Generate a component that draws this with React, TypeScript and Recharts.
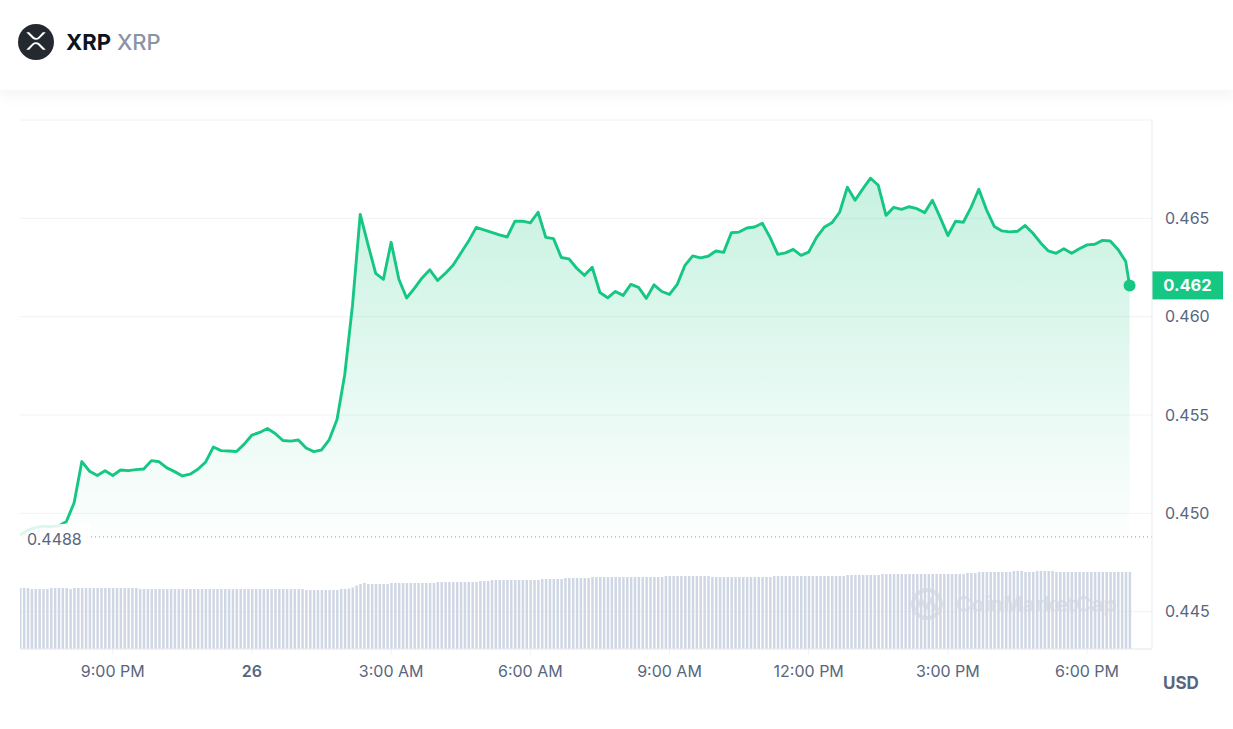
import React from 'react';
import {
  ComposedChart,
  Area,
  Bar,
  XAxis,
  YAxis,
  CartesianGrid,
  ReferenceLine,
  ReferenceDot,
} from 'recharts';

// 24h of 5-minute slots, starting 7:00 PM
const TICK_SLOTS = [24, 60, 96, 132, 168, 204, 240, 276];
const TICK_LABELS = ['9:00 PM', '26', '3:00 AM', '6:00 AM', '9:00 AM', '12:00 PM', '3:00 PM', '6:00 PM'];
const PRICE_TICKS = [0.445, 0.45, 0.455, 0.46, 0.465];
const OPEN_PRICE = 0.4488;

// price, one reading every 10 minutes (last one is the live price)
const PRICE = [
  0.4489, 0.44914, 0.44927, 0.44935, 0.44932, 0.44936, 0.44958, 0.45054, 0.45263, 0.45214,
  0.45192, 0.45216, 0.45192, 0.4522, 0.45217, 0.45222, 0.45225, 0.45268, 0.45262, 0.45231,
  0.45212, 0.4519, 0.45199, 0.45224, 0.4526, 0.45337, 0.45319, 0.45317, 0.45314, 0.45352,
  0.45398, 0.45411, 0.45431, 0.45406, 0.4537, 0.45367, 0.45373, 0.45332, 0.45314, 0.45322,
  0.45375, 0.45477, 0.45706, 0.46057, 0.4652, 0.46368, 0.4622, 0.4619, 0.46378, 0.4619,
  0.46095, 0.46144, 0.46197, 0.46238, 0.46184, 0.4622, 0.46261, 0.46322, 0.46383, 0.46454,
  0.46441, 0.46429, 0.46416, 0.46405, 0.46485, 0.46486, 0.46477, 0.46531, 0.46403, 0.46397,
  0.46301, 0.46294, 0.46246, 0.4621, 0.46251, 0.46123, 0.46096, 0.46128, 0.46108, 0.46164,
  0.46149, 0.46093, 0.46162, 0.46128, 0.46113, 0.46164, 0.46261, 0.46309, 0.46299, 0.46307,
  0.46334, 0.46327, 0.46427, 0.4643, 0.46451, 0.46456, 0.46475, 0.46403, 0.46317, 0.46324,
  0.46342, 0.46312, 0.46328, 0.46402, 0.46454, 0.46477, 0.46531, 0.46658, 0.46592, 0.4665,
  0.46704, 0.46668, 0.46515, 0.46556, 0.46546, 0.46559, 0.46549, 0.46529, 0.46592, 0.46505,
  0.46413, 0.46485, 0.4648, 0.46556, 0.46648, 0.46543, 0.46459, 0.46436, 0.46431, 0.46434,
  0.46464, 0.46424, 0.46375, 0.46334, 0.46322, 0.46345, 0.46322, 0.46345, 0.46365, 0.46368,
  0.46388, 0.46385, 0.46342, 0.46281, 0.46159,
];

// 24h volume (million USD), one bar per 5-minute slot
const VOLUME = [
  976, 976, 976, 960, 960, 960, 960, 960, 976, 976, 976, 976, 976, 960, 976, 976,
  976, 976, 976, 976, 976, 976, 976, 976, 976, 976, 976, 976, 976, 976, 976, 960,
  960, 960, 960, 960, 960, 960, 960, 960, 960, 960, 960, 960, 960, 960, 960, 960,
  960, 960, 960, 960, 960, 960, 960, 960, 960, 960, 960, 960, 960, 960, 960, 960,
  960, 960, 960, 960, 960, 960, 960, 960, 960, 960, 944, 944, 944, 944, 944, 944,
  944, 944, 944, 960, 960, 968, 984, 1016, 1040, 1056, 1040, 1040, 1040, 1040, 1040, 1040,
  1056, 1056, 1056, 1056, 1056, 1056, 1056, 1056, 1056, 1056, 1056, 1056, 1072, 1072, 1072, 1072,
  1072, 1072, 1072, 1072, 1072, 1072, 1072, 1088, 1088, 1088, 1104, 1104, 1104, 1104, 1104, 1104,
  1104, 1104, 1104, 1104, 1104, 1104, 1104, 1120, 1120, 1120, 1120, 1120, 1120, 1136, 1136, 1136,
  1136, 1136, 1136, 1136, 1152, 1152, 1152, 1152, 1152, 1152, 1152, 1152, 1152, 1152, 1152, 1152,
  1152, 1152, 1152, 1152, 1152, 1152, 1152, 1168, 1168, 1168, 1168, 1168, 1168, 1168, 1168, 1168,
  1168, 1168, 1168, 1152, 1152, 1152, 1152, 1152, 1152, 1152, 1152, 1152, 1152, 1152, 1152, 1152,
  1152, 1152, 1152, 1168, 1168, 1168, 1168, 1168, 1168, 1168, 1168, 1168, 1168, 1168, 1168, 1168,
  1168, 1168, 1168, 1168, 1168, 1168, 1184, 1184, 1184, 1184, 1184, 1184, 1184, 1184, 1184, 1200,
  1200, 1200, 1200, 1200, 1200, 1200, 1200, 1200, 1200, 1200, 1200, 1200, 1200, 1200, 1200, 1200,
  1200, 1200, 1200, 1200, 1200, 1216, 1216, 1216, 1232, 1232, 1232, 1232, 1232, 1232, 1232, 1232,
  1232, 1248, 1248, 1248, 1232, 1232, 1232, 1248, 1248, 1248, 1248, 1248, 1232, 1232, 1232, 1232,
  1232, 1232, 1232, 1232, 1232, 1232, 1232, 1232, 1232, 1232, 1232, 1232, 1232, 1232, 1232, 1232,
];

const GREEN = '#16c784';
const TEXT = '#58667e';
const BORDER = '#e9ebef';
const FONT = 'Inter, "Noto Sans", sans-serif';

type Row = { t: number; volume: number; price?: number };

const rows: Row[] = VOLUME.map((v, i) => ({ t: i, volume: v }));
PRICE.forEach((p, j) => {
  rows[Math.min(j * 2, rows.length - 1)].price = p;
});
const lastPrice = PRICE[PRICE.length - 1];

function TimeTick(props: any) {
  const { x, y, payload } = props;
  const label = TICK_LABELS[TICK_SLOTS.indexOf(payload.value)];
  const isDay = label === '26';
  return (
    <text
      x={x}
      y={y}
      dy={21.5}
      textAnchor="middle"
      fontSize={16}
      fontFamily={FONT}
      fontWeight={isDay ? 600 : 400}
      fill={TEXT}
    >
      {label}
    </text>
  );
}

function OpenLabel(props: any) {
  const { viewBox } = props;
  if (!viewBox) return null;
  const { x, y } = viewBox;
  return (
    <g>
      <rect x={x} y={y - 13} width={70} height={29} fill="#fff" fillOpacity={0.85} />
      <text x={x + 7} y={y + 8} fontSize={16} fontFamily={FONT} fill={TEXT}>
        {OPEN_PRICE.toFixed(4)}
      </text>
    </g>
  );
}

function PriceBadge(props: any) {
  const { viewBox } = props;
  if (!viewBox) return null;
  const { x, y, width } = viewBox;
  const left = x + width;
  return (
    <g>
      <rect x={left} y={y - 14} width={71} height={28} fill={GREEN} />
      <text
        x={left + 35.5}
        y={y + 6}
        textAnchor="middle"
        fontSize={16.5}
        fontWeight={700}
        fontFamily={FONT}
        fill="#fff"
      >
        {lastPrice.toFixed(3)}
      </text>
    </g>
  );
}

export default function App() {
  return (
    <div
      style={{
        position: 'absolute',
        left: 0,
        top: 0,
        width: 1233,
        height: 729,
        background: '#fff',
        fontFamily: FONT,
        overflow: 'hidden',
      }}
    >
      <div
        style={{
          position: 'absolute',
          left: 0,
          top: 0,
          width: 1233,
          height: 90,
          background: '#fff',
          boxShadow: '0 4px 14px rgba(88,102,126,0.09)',
          zIndex: 3,
          display: 'flex',
          alignItems: 'center',
        }}
      >
        <svg width={60} height={90} style={{ flex: 'none' }}>
          <circle cx={36} cy={42} r={18} fill="#23292f" />
          <g transform="translate(21,26) scale(1.25)" fill="#fff">
            <path d="M17.4 5h2.4l-5 4.95a4.05 4.05 0 0 1-5.65 0L4.2 5h2.4l3.78 3.74a2.56 2.56 0 0 0 3.6 0L17.4 5z" />
            <path d="M6.57 19H4.18l5-4.95a4.05 4.05 0 0 1 5.65 0L19.83 19h-2.4l-3.8-3.77a2.56 2.56 0 0 0-3.6 0L6.57 19z" />
          </g>
        </svg>
        <span style={{ marginLeft: 6, marginTop: -6, fontSize: 22, fontWeight: 700, color: '#0d1421' }}>XRP</span>
        <span style={{ marginLeft: 6, marginTop: -6, fontSize: 22, fontWeight: 500, color: '#8a94a6' }}>XRP</span>
      </div>

      {/* watermark sits behind the volume bars */}
      <svg
        width={1233}
        height={729}
        style={{ position: 'absolute', left: 0, top: 0, zIndex: 0 }}
      >
        <circle cx={927} cy={604} r={14} fill="none" stroke="#dfe3ea" strokeWidth={4} />
        <path
          d="M916 610 l5 -10 l5 8 l5 -8 l5 10"
          fill="none"
          stroke="#dfe3ea"
          strokeWidth={3.5}
        />
        <text x={956} y={612} fontSize={21} fontWeight={700} fontFamily={FONT} fill="#dfe3ea">
          CoinMarketCap
        </text>
      </svg>

      <div style={{ position: 'absolute', left: 0, top: 0, zIndex: 1 }}>
        <ComposedChart
          width={1233}
          height={729}
          data={rows}
          margin={{ top: 120, right: 0, bottom: 50, left: 20 }}
        >
          <defs>
            <linearGradient id="priceFill" x1="0" y1="0" x2="0" y2="1">
              <stop offset="0%" stopColor={GREEN} stopOpacity={0.4} />
              <stop offset="100%" stopColor={GREEN} stopOpacity={0.02} />
            </linearGradient>
          </defs>
          <CartesianGrid vertical={false} stroke="#f1f2f4" yAxisId="price" />
          <XAxis
            dataKey="t"
            type="number"
            domain={[0, 292.8]}
            ticks={TICK_SLOTS}
            tick={<TimeTick />}
            tickSize={6}
            tickMargin={0}
            tickLine={{ stroke: '#eff2f5' }}
            axisLine={{ stroke: BORDER }}
            height={30}
            allowDataOverflow
          />
          <XAxis
            xAxisId="top"
            dataKey="t"
            type="number"
            domain={[0, 292.8]}
            orientation="top"
            height={0}
            tick={false}
            tickLine={false}
            axisLine={{ stroke: BORDER }}
          />
          <YAxis
            yAxisId="border"
            orientation="left"
            width={0}
            domain={[0, 1]}
            tick={false}
            tickLine={false}
            axisLine={{ stroke: BORDER }}
          />
          <YAxis
            yAxisId="price"
            orientation="right"
            width={81}
            domain={[0.4431, 0.47]}
            ticks={PRICE_TICKS}
            tickFormatter={(v: number) => v.toFixed(3)}
            tick={{ fontSize: 16, fill: TEXT, fontFamily: FONT }}
            tickLine={false}
            tickSize={6}
            tickMargin={7}
            axisLine={{ stroke: BORDER }}
            allowDataOverflow
          />
          <YAxis yAxisId="vol" hide domain={[0, 8464]} />
          <Bar
            yAxisId="vol"
            dataKey="volume"
            fill="#cfd6e4"
            barSize={2.5}
            isAnimationActive={false}
          />
          <Area
            yAxisId="price"
            type="linear"
            dataKey="price"
            baseValue={OPEN_PRICE}
            connectNulls
            stroke={GREEN}
            strokeWidth={2.9}
            strokeLinejoin="round"
            fill="url(#priceFill)"
            dot={false}
            activeDot={false}
            isAnimationActive={false}
          />
          <ReferenceLine
            yAxisId="price"
            y={OPEN_PRICE}
            stroke="#8a94a6"
            strokeDasharray="1 3"
            label={<OpenLabel />}
          />
          <ReferenceLine
            yAxisId="price"
            y={lastPrice}
            stroke="none"
            label={<PriceBadge />}
          />
          <ReferenceDot
            yAxisId="price"
            x={rows.length - 1}
            y={lastPrice}
            r={6}
            fill={GREEN}
            stroke="none"
          />
        </ComposedChart>
      </div>

      <div
        style={{
          position: 'absolute',
          left: 1163,
          top: 673,
          fontSize: 17,
          fontWeight: 700,
          color: TEXT,
          zIndex: 2,
        }}
      >
        USD
      </div>
    </div>
  );
}
